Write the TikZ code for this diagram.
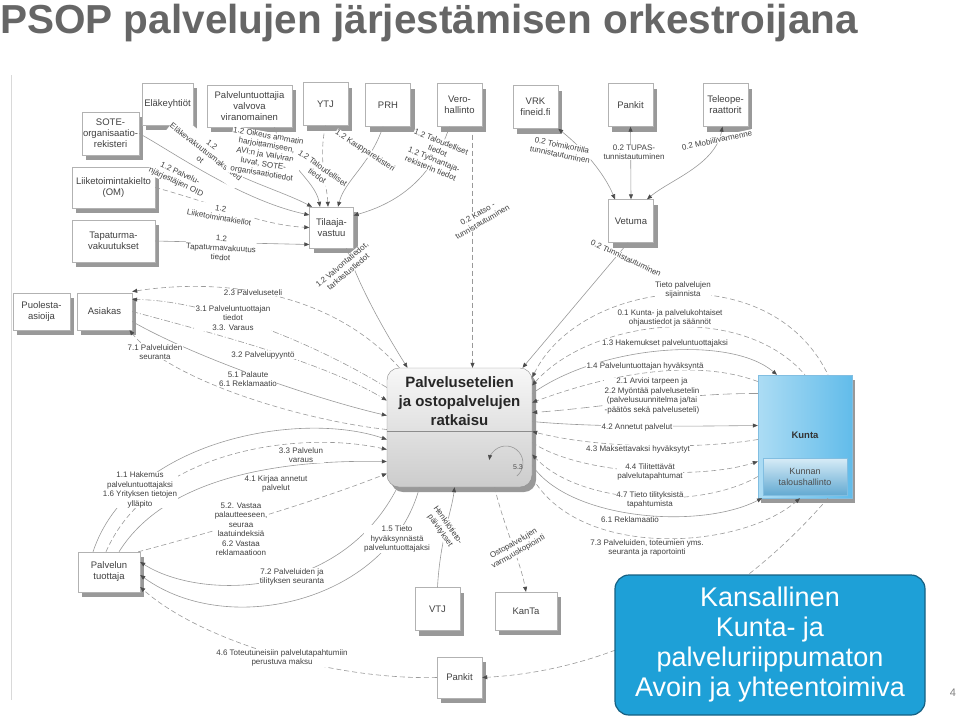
\documentclass[tikz,border=0pt]{standalone}
\usepackage{fontspec}
\setmainfont{Liberation Sans}
\usetikzlibrary{arrows.meta,shadows}

\definecolor{calloutfill}{RGB}{30,160,215}
\definecolor{calloutline}{RGB}{22,96,130}
\definecolor{kuntaleft}{RGB}{172,220,244}
\definecolor{kuntaright}{RGB}{98,188,234}
\definecolor{kuntaline}{RGB}{130,190,225}
\definecolor{taltop}{RGB}{215,236,247}
\definecolor{talbottom}{RGB}{100,170,210}

\tikzset{
  ent/.style={draw=black!30, fill=white, minimum width=45pt, minimum height=43pt,
    inner sep=1pt, align=center, text=black!75, font=\fontsize{9.5}{11}\selectfont,
    drop shadow={shadow xshift=4pt, shadow yshift=-5pt, fill=black!40, opacity=1}},
  hubbox/.style={draw=black!45, rounded corners=12pt, top color=black!3, bottom color=black!20,
    minimum width=145pt, minimum height=119pt,
    drop shadow={shadow xshift=4pt, shadow yshift=-5pt, fill=black!40, opacity=1}},
  kuntabox/.style={draw=kuntaline, left color=kuntaleft, right color=kuntaright,
    minimum width=94pt, minimum height=123pt,
    drop shadow={shadow xshift=3pt, shadow yshift=-5pt, fill=black!40, opacity=1}},
  talbox/.style={draw=kuntaline, top color=taltop, bottom color=talbottom,
    minimum width=84pt, minimum height=37pt, align=center, text=black!70,
    font=\fontsize{9}{11}\selectfont},
  note/.style={draw=calloutline, line width=1.2pt, fill=calloutfill, rounded corners=14pt,
    minimum width=310pt, minimum height=140pt, text=white, align=center,
    font=\fontsize{27}{30}\selectfont},
  conn/.style={draw=black!40, line width=0.6pt},
  dconn/.style={conn, dash pattern=on 5pt off 3pt},
  ldconn/.style={conn, dash pattern=on 9pt off 4pt},
  ddconn/.style={conn, dash pattern=on 6pt off 2pt on 1pt off 2pt},
  lbl/.style={font=\fontsize{8}{9.5}\selectfont, text=black!75, fill=white, inner sep=0.5pt, align=center}
}

\begin{document}
\begin{tikzpicture}[x=1pt, y=-1pt, >={Triangle[length=5pt,width=4pt,color=black!70]}]
\useasboundingbox (0,0) rectangle (960,721);

% title and frame
\node[anchor=base west, inner sep=0pt, text=black!60, font=\bfseries\fontsize{40.5}{42}\selectfont] (title) at (0,33) {PSOP palvelujen järjestämisen orkestroijana};
\draw[black!15] (11,75) -- (11,700);

% registers and actors
\node[ent, minimum width=55pt] (sote) at (110.5,133.5) {SOTE-\\organisaatio-\\rekisteri};
\node[ent, minimum width=51pt, minimum height=42pt] (elake) at (167.5,104) {Eläkeyhtiöt};
\node[ent, minimum width=85pt, minimum height=42pt] (valvoja) at (249.5,106) {Palveluntuottajia\\valvova\\viranomainen};
\node[ent] (ytj) at (325.5,104) {YTJ};
\node[ent] (prh) at (388,105) {PRH};
\node[ent] (vero) at (459.5,105) {Vero-\\hallinto};
\node[ent] (vrk) at (535.5,107) {VRK\\fineid.fi};
\node[ent] (pankitA) at (630.5,105) {Pankit};
\node[ent] (teleop) at (725.5,105) {Teleope-\\raattorit};
\node[ent] (vetuma) at (631,221) {Vetuma};
\node[ent, minimum width=83pt, minimum height=41pt] (liike) at (113.5,187.5) {Liiketoimintakielto\\(OM)};
\node[ent, minimum width=83pt, minimum height=42pt] (tapat) at (113.5,241) {Tapaturma-\\vakuutukset};
\node[ent, minimum width=44pt, minimum height=41pt] (tilaaja) at (331.5,227.5) {Tilaaja-\\vastuu};
\node[ent, minimum width=57pt, minimum height=37pt] (puol) at (41.5,311.5) {Puolesta-\\asioija};
\node[ent, minimum width=55pt, minimum height=37pt] (asiakas) at (104.5,311.5) {Asiakas};
\node[ent, minimum width=62pt, minimum height=40pt] (tuottaja) at (109,572) {Palvelun\\tuottaja};
\node[ent] (vtj) at (437.5,609) {VTJ};
\node[ent, minimum width=62pt, minimum height=38pt] (kanta) at (526,611) {KanTa};
\node[ent, minimum height=41pt] (pankitB) at (459.5,677.5) {Pankit};

% the hub
\node[hubbox] (hub) at (459.5,427.5) {};
\draw[black!45] ([yshift=-3.5pt]hub.west) -- ([yshift=-3.5pt]hub.east);
\node[font=\bfseries\fontsize{15}{19}\selectfont, align=center, text=black!85] (hubtxt) at (459.5,401) {Palvelusetelien\\ja ostopalvelujen\\ratkaisu};
\draw[conn,->] ([shift={(57.4pt,-48.5pt)}]hub.center) arc[start angle=-50, end angle=170, radius=17pt];
\node[font=\fontsize{7}{8}\selectfont, text=black!70] (loop) at (518,467) {5.3};

% municipality
\node[kuntabox] (kunta) at (805,436.5) {};
\node[font=\bfseries\fontsize{9.5}{11}\selectfont, text=black!80] (kuntanimi) at (805,435) {Kunta};
\node[talbox] (talous) at (805,476.5) {Kunnan\\taloushallinto};

% top: into Tilaajavastuu
\draw[conn,->] (sote.east) .. controls (170,150) and (240,200) .. ([yshift=12.5pt]tilaaja.west);
\draw[conn,->] ([xshift=8pt]elake.south) .. controls (200,170) and (270,185) .. ([xshift=-19.5pt]tilaaja.north);
\draw[conn,->] ([xshift=25pt]valvoja.south) .. controls (285,165) and (315,180) .. ([xshift=-11.5pt]tilaaja.north);
\draw[dconn,->] (ytj.south) .. controls (318,160) and (327,185) .. ([xshift=-3.5pt]tilaaja.north);
\draw[conn,->] ([xshift=-5pt]prh.south) .. controls (370,165) and (345,180) .. ([xshift=6.5pt]tilaaja.north);
\draw[conn,->] ([xshift=-10pt]vero.south) .. controls (430,185) and (390,205) .. ([yshift=12pt]tilaaja.east);
\draw[dconn,->] (liike.east) .. controls (220,205) and (260,225) .. (tilaaja.west);
\draw[conn,->] (tapat.east) -- ([yshift=-17pt]tilaaja.west);
\draw[conn,->] ([xshift=15pt]tilaaja.south) .. controls (360,290) and (390,340) .. ([xshift=-52pt]hub.north);
\draw[dconn,->] ([xshift=13pt]vero.south) -- ([xshift=13pt]hub.north);

% top right: identification
\draw[conn,<->] (vrk.south east) .. controls (585,150) and (605,175) .. ([xshift=-16pt]vetuma.north);
\draw[conn,<->] (pankitA.south) -- (vetuma.north);
\draw[conn,<->] ([xshift=-3pt]teleop.south) .. controls (715,165) and (670,180) .. ([xshift=16pt]vetuma.north);
\draw[conn,->] ([xshift=-3pt]vetuma.south) -- ([xshift=63pt]hub.north);

% right: Kunta
\draw[dconn,<-] ([yshift=50pt]hub.east) .. controls (580,280) and (770,255) .. ([xshift=23pt]kunta.north);
\draw[dconn,<-] ([yshift=42pt]hub.east) .. controls (590,320) and (740,300) .. (kunta.north);
\draw[conn,->] ([yshift=34pt]hub.east) .. controls (600,345) and (730,335) .. ([xshift=-28pt]kunta.north);
\draw[dconn,->] ([yshift=55pt]kunta.west) .. controls (700,360) and (620,370) .. ([yshift=25pt]hub.east);
\draw[ldconn,->] ([yshift=43pt]kunta.west) .. controls (680,393) and (600,408) .. ([yshift=15pt]hub.east);
\draw[conn,->] ([yshift=6pt]hub.east) .. controls (600,428) and (700,426) .. ([yshift=11pt]kunta.west);
\draw[dconn,->] ([yshift=-3pt]kunta.west) .. controls (700,449) and (600,449) .. ([yshift=-4pt]hub.east);
\draw[dconn,->] ([yshift=-15pt]hub.east) .. controls (580,475) and (700,480) .. ([yshift=-25pt]kunta.west);
\draw[dconn,->] ([yshift=-40pt]kunta.west) .. controls (700,510) and (580,505) .. ([yshift=-27pt]hub.east);
\draw[conn,->] ([yshift=-38pt]hub.east) .. controls (570,520) and (700,530) .. ([xshift=-43pt]kunta.south);
\draw[dconn,->] ([yshift=-50pt]hub.east) .. controls (580,560) and (740,550) .. ([xshift=-5pt]kunta.south);
\draw[dconn,->] ([xshift=23pt]kunta.south) .. controls (740,600) and (620,670) .. (pankitB.east);

% left: Asiakas
\draw[dconn,->] ([xshift=-60pt]hub.north) .. controls (330,290) and (220,278) .. ([yshift=20pt]asiakas.east);
\draw[ddconn,->] ([yshift=40pt]hub.west) .. controls (300,335) and (200,300) .. ([yshift=12pt]asiakas.east);
\draw[ddconn,->] (asiakas.east) .. controls (200,330) and (320,360) .. ([yshift=27pt]hub.west);
\draw[conn,->] ([yshift=-10pt]asiakas.east) .. controls (200,360) and (320,400) .. ([yshift=12pt]hub.west);
\draw[dconn,->] ([yshift=-2pt]hub.west) .. controls (300,420) and (170,380) .. ([xshift=25pt]asiakas.south);

% left: Palvelun tuottaja
\draw[conn,->] ([xshift=-16pt]tuottaja.north) .. controls (130,440) and (300,410) .. ([yshift=-12pt]hub.west);
\draw[dconn,->] ([xshift=-3pt]tuottaja.north) .. controls (150,450) and (300,430) .. ([yshift=-22pt]hub.west);
\draw[conn,->] ([xshift=10pt]tuottaja.north) .. controls (170,470) and (300,460) .. ([yshift=-34pt]hub.west);
\draw[dconn,->] ([xshift=-2pt]tuottaja.north east) .. controls (220,530) and (320,500) .. ([yshift=-46pt]hub.west);
\draw[conn,->] ([xshift=-62pt]hub.south) .. controls (340,600) and (200,600) .. ([yshift=10pt]tuottaja.east);
\draw[conn,->] ([xshift=-40pt]hub.south) .. controls (390,600) and (230,640) .. ([yshift=-3pt]tuottaja.east);
\draw[dconn,->] (pankitB.west) .. controls (330,680) and (200,640) .. ([yshift=-15pt]tuottaja.east);

% bottom
\draw[conn,->] (vtj.north) .. controls (440,540) and (452,510) .. ([xshift=-5pt]hub.south);
\draw[dconn,->] ([xshift=35pt]hub.south) .. controls (505,530) and (520,560) .. (kanta.north);

% connector labels
\node[lbl, rotate=-25] (lOid) at (178,178) {1.2 Palvelu-\\njärjestäjien OID};
\node[lbl, rotate=-38] (lElake) at (206,152) {1.2\\Eläkevakuutusmaksutied\\ot};
\node[lbl, rotate=-10] (lValvoja) at (265,155) {1.2 Oikeus ammatin\\harjoittamiseen,\\AVI:n ja Valviran\\luvat, SOTE-\\organisaatiotiedot};
\node[lbl, rotate=-35] (lYtj) at (320,172) {1.2 Taloudelliset\\tiedot};
\node[lbl, rotate=-33] (lPrh) at (365,151) {1.2 Kaupparekisteri};
\node[lbl, rotate=-22] (lVero) at (436,155) {1.2 Taloudelliset\\tiedot\\1.2 Työnantaja-\\rekisterin tiedot};
\node[lbl, rotate=-10] (lLiike) at (220,213) {1.2\\Liiketoimintakiellot};
\node[lbl, rotate=-3] (lTapat) at (221,248) {1.2\\Tapaturmavakuutus\\tiedot};
\node[lbl, rotate=40] (lValvonta) at (345,268) {1.2 Valvontatiedot,\\tarkastustiedot};
\node[lbl, rotate=30] (lKatso) at (480,218) {0.2 Katso -\\tunnistautuminen};
\node[lbl, rotate=-12] (lToimi) at (561,150) {0.2 Toimikortilla\\tunnistautuminen};
\node[lbl] (lTupas) at (634,152) {0.2 TUPAS-\\tunnistautuminen};
\node[lbl, rotate=12] (lMobiili) at (717,140) {0.2 Mobiilivarmenne};
\node[lbl, rotate=-25] (lTunn) at (626,258) {0.2 Tunnistautuminen};
\node[lbl] (lSijainti) at (683,290) {Tieto palvelujen\\sijainnista};
\node[lbl] (lOhjaus) at (670,318) {0.1 Kunta- ja palvelukohtaiset\\ohjaustiedot ja säännöt};
\node[lbl] (lHakemus) at (665,343) {1.3 Hakemukset palveluntuottajaksi};
\node[lbl] (lHyv) at (645,366) {1.4 Palveluntuottajan hyväksyntä};
\node[lbl] (lArvio) at (652,396) {2.1 Arvioi tarpeen ja\\2.2 Myöntää palvelusetelin\\(palvelusuunnitelma ja/tai\\-päätös sekä palveluseteli)};
\node[lbl] (lAnnetut) at (637,427) {4.2 Annetut palvelut};
\node[lbl] (lMaksettava) at (638,449) {4.3 Maksettavaksi hyväksytyt};
\node[lbl] (lTilit) at (650,472) {4.4 Tilitettävät\\palvelutapahtumat};
\node[lbl] (lTilitys) at (650,500) {4.7 Tieto tilityksistä\\tapahtumista};
\node[lbl] (lRekl) at (630,520) {6.1 Reklamaatio};
\node[lbl] (lRaportti) at (647,548) {7.3 Palveluiden, toteumien yms.\\seuranta ja raportointi};
\node[lbl] (lSeteli) at (253,293) {2.3 Palveluseteli};
\node[lbl] (lTiedot) at (233,318) {3.1 Palveluntuottajan\\tiedot\\3.3. Varaus};
\node[lbl] (lPyynto) at (263,355) {3.2 Palvelupyyntö};
\node[lbl] (lPalaute) at (248,379) {5.1 Palaute\\6.1 Reklamaatio};
\node[lbl] (lSeuranta) at (155,352) {7.1 Palveluiden\\seuranta};
\node[lbl] (lHakem) at (140,490) {1.1 Hakemus\\palveluntuottajaksi\\1.6 Yrityksen tietojen\\ylläpito};
\node[lbl] (lVaraus) at (301,455) {3.3 Palvelun\\varaus};
\node[lbl] (lKirjaa) at (276,484) {4.1 Kirjaa annetut\\palvelut};
\node[lbl] (lVastaa) at (241,529) {5.2. Vastaa\\palautteeseen,\\seuraa\\laatuindeksiä\\6.2 Vastaa\\reklamaatioon};
\node[lbl] (lTilitSeur) at (292,577) {7.2 Palveluiden ja\\tilityksen seuranta};
\node[lbl] (lHyvaks) at (397,539) {1.5 Tieto\\hyväksynnästä\\palveluntuottajaksi};
\node[lbl] (lMaksu) at (282,658) {4.6 Toteutuneisiin palvelutapahtumiin\\perustuva maksu};
\node[lbl, rotate=-55] (lHenk) at (444,528) {Henkilötieto-\\päivitykset};
\node[lbl, rotate=30] (lVarm) at (516,548) {Ostopalvelujen\\varmuuskopiointi};

% callout and page number
\node[note] (note) at (770,645) {Kansallinen\\Kunta- ja\\palveluriippumaton\\Avoin ja yhteentoimiva};
\node[text=black!50, font=\fontsize{11}{13}\selectfont] (pnum) at (953,693) {4};
\end{tikzpicture}
\end{document}
